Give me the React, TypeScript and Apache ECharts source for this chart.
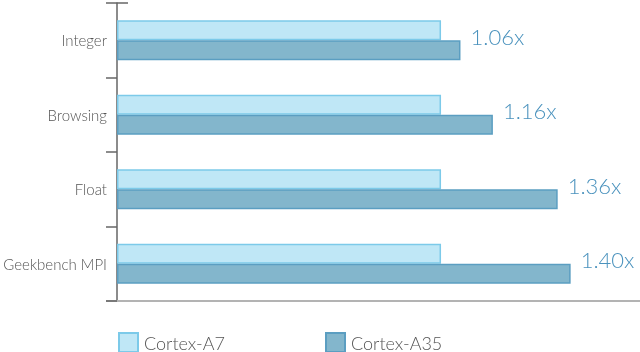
import React, { useEffect, useRef } from "react";
import * as echarts from "echarts";

const categories = ["Integer", "Browsing", "Float", "Geekbench MPI"];
const cortexA7 = [1.0, 1.0, 1.0, 1.0];
const cortexA35 = [1.06, 1.16, 1.36, 1.4];
const valueLabels = ["1.06x", "1.16x", "1.36x", "1.40x"];

const FONT = "Lato, 'Open Sans', sans-serif";

export default function App() {
  const ref = useRef<HTMLDivElement>(null);
  useEffect(() => {
    if (!ref.current) return;
    const chart = echarts.init(ref.current, undefined, { renderer: "svg" });
    const legendBase = {
      top: 332,
      padding: 0,
      itemWidth: 19,
      itemHeight: 19,
      itemGap: 6,
      icon: "rect",
      textStyle: { color: "#555", fontFamily: FONT, fontWeight: 300, fontSize: 18, padding: [0, 0, 0, 1] },
    };
    chart.setOption({
      animation: false,
      grid: { left: 117, right: 0, top: 3, bottom: 51 },
      xAxis: {
        type: "value",
        min: 0,
        max: 1.614,
        show: true,
        axisLine: { show: true, lineStyle: { color: "#b3b3b3", width: 2 } },
        axisTick: { show: false },
        axisLabel: { show: false },
        splitLine: { show: false },
      },
      yAxis: {
        type: "category",
        data: categories,
        inverse: true,
        axisLine: { show: true, onZero: false, lineStyle: { color: "#666", width: 1.5 } },
        axisTick: { show: true, length: 11, lineStyle: { color: "#666", width: 1.5 } },
        axisLabel: { color: "#555", fontFamily: FONT, fontWeight: 300, fontSize: 15, margin: 10 },
      },
      legend: [
        { ...legendBase, data: ["Cortex-A7"], left: 118 },
        { ...legendBase, data: ["Cortex-A35"], left: 325 },
      ],
      series: [
        {
          name: "Cortex-A7",
          type: "bar",
          data: cortexA7,
          barWidth: 20,
          barGap: "0%",
          itemStyle: { color: "#bfe7f6", borderColor: "#7ccae9", borderWidth: 1.5 },
        },
        {
          name: "Cortex-A35",
          type: "bar",
          data: cortexA35,
          barWidth: 20,
          barGap: "0%",
          itemStyle: { color: "#83b6cc", borderColor: "#5b9ec1", borderWidth: 1.5 },
          label: {
            show: true,
            position: "right",
            distance: 10,
            offset: [0, -14],
            color: "#4a92bd",
            fontFamily: FONT,
            fontWeight: 300,
            fontSize: 22,
            formatter: (p: any) => valueLabels[p.dataIndex],
          },
        },
      ],
      graphic: [
        {
          type: "line",
          shape: { x1: 117, y1: 3, x2: 128, y2: 3 },
          style: { stroke: "#666", lineWidth: 1.5 },
        },
        {
          type: "line",
          shape: { x1: 106, y1: 301, x2: 118, y2: 301 },
          style: { stroke: "#b3b3b3", lineWidth: 2 },
        },
      ],
    });
    return () => chart.dispose();
  }, []);
  return <div ref={ref} style={{ position: "fixed", left: 0, top: 0, width: 640, height: 352 }} />;
}
